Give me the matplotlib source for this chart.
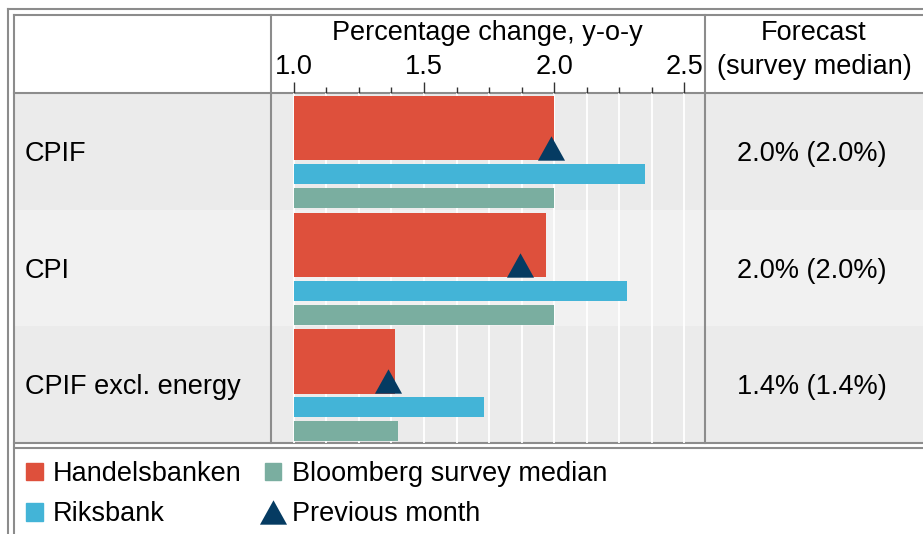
import matplotlib.pyplot as plt
from matplotlib.patches import Rectangle, Patch
from matplotlib.lines import Line2D
from matplotlib.ticker import FixedLocator, MultipleLocator

plt.rcParams['font.family'] = ['Liberation Sans', 'DejaVu Sans']

# Daten (Prozent, y-o-y)
categories = ["CPIF", "CPI", "CPIF excl. energy"]
handelsbanken = [2.0, 1.97, 1.39]
riksbank = [2.35, 2.28, 1.73]
bloomberg = [2.0, 2.0, 1.40]
previous_month = [1.99, 1.87, 1.36]
forecast_labels = ["2.0% (2.0%)", "2.0% (2.0%)", "1.4% (1.4%)"]
series_names = ["Handelsbanken", "Riksbank", "Bloomberg survey median", "Previous month"]

RED = "#de503c"
BLUE = "#43b4d7"
GREEN = "#7aaea0"
NAVY = "#053b62"
LINE = "#8c8c8c"
FS = 19.5

# Tabellenlayout in Pixeln
W, H = 923, 534
head_bot = 93
row_h = 116.7
tab_bot = head_bot + 3 * row_h
col1, col2 = 270.5, 705

fig = plt.figure(figsize=(W / 100, H / 100), dpi=100)

# Hintergrund / Tabelle
bg = fig.add_axes([0, 0, 1, 1])
bg.set_xlim(0, W)
bg.set_ylim(H, 0)
bg.axis("off")

band_colors = ["#ebebeb", "#f1f1f1", "#ebebeb"]
for i, cat in enumerate(categories):
    top = head_bot + i * row_h
    bg.add_patch(Rectangle((14, top), W - 14, row_h, color=band_colors[i], lw=0, zorder=0))
    mid = top + row_h / 2
    bg.text(25, mid + 9.7, cat, fontsize=FS, va="baseline", ha="left")
    bg.text(812, mid + 9.7, forecast_labels[i], fontsize=FS, va="baseline", ha="center")

lw = 1.5
bg.plot([8, W], [9, 9], color=LINE, lw=lw)
bg.plot([8, 8], [9, H], color=LINE, lw=lw)
bg.plot([14, W], [15, 15], color=LINE, lw=lw)
bg.plot([14, 14], [15, H], color=LINE, lw=lw)
bg.plot([14, W], [head_bot, head_bot], color=LINE, lw=lw)
bg.plot([col1, col1], [15, tab_bot], color=LINE, lw=lw)
bg.plot([col2, col2], [15, tab_bot], color=LINE, lw=lw)
bg.plot([14, W], [tab_bot, tab_bot], color=LINE, lw=lw)
bg.plot([14, W], [tab_bot + 4.5, tab_bot + 4.5], color=LINE, lw=lw)

bg.text((col1 + col2) / 2, 40, "Percentage change, y-o-y", fontsize=FS, ha="center", va="baseline")
bg.text(814, 39.5, "Forecast", fontsize=FS, ha="center", va="baseline")
bg.text(814, 74.5, "(survey median)", fontsize=FS, ha="center", va="baseline")

# Balken
ax = fig.add_axes([(col1 + 0.5) / W, (H - tab_bot) / H, (col2 - col1 - 0.5) / W, (tab_bot - head_bot) / H])
ax.patch.set_alpha(0)
ax.set_xlim(0.912, 2.58)
ax.set_ylim(3, 0)

rows = range(len(categories))
ax.barh([r + 0.30 for r in rows], [v - 1.0 for v in handelsbanken], left=1.0, height=0.55, color=RED, zorder=3)
ax.barh([r + 0.694 for r in rows], [v - 1.0 for v in riksbank], left=1.0, height=0.171, color=BLUE, zorder=3)
ax.barh([r + 0.90 for r in rows], [v - 1.0 for v in bloomberg], left=1.0, height=0.171, color=GREEN, zorder=3)

tri = [(-1, -0.9), (1, -0.9), (0, 0.9)]
ax.plot(previous_month, [r + 0.471 for r in rows], linestyle="none", marker=tri,
        markersize=19.5, color=NAVY, markeredgewidth=0, zorder=4)

ax.xaxis.tick_top()
ax.xaxis.set_major_locator(FixedLocator([1.0, 1.5, 2.0, 2.5]))
ax.xaxis.set_minor_locator(MultipleLocator(0.125))
ax.tick_params(axis="x", which="major", length=8, width=1, color="#333333", labelsize=FS, pad=1)
ax.tick_params(axis="x", which="minor", length=4.3, width=1, color="#333333")
ax.set_yticks([])
for s in ax.spines.values():
    s.set_visible(False)
ax.set_axisbelow(True)
ax.grid(True, which="both", axis="x", color="white", lw=1.3, zorder=1)

# Legende
handles = [
    Patch(color=RED),
    Patch(color=BLUE),
    Patch(color=GREEN),
    Line2D([], [], linestyle="none", marker=tri, markersize=19.5, color=NAVY, markeredgewidth=0),
]
fig.legend(handles, series_names, loc="upper left", bbox_to_anchor=(26 / W, 1 - 461 / H),
           ncol=2, frameon=False, fontsize=FS, borderpad=0, borderaxespad=0,
           handlelength=0.61, handleheight=0.61, handletextpad=0.39,
           columnspacing=0.85, labelspacing=0.53)

fig.savefig("out.png", dpi=100)
